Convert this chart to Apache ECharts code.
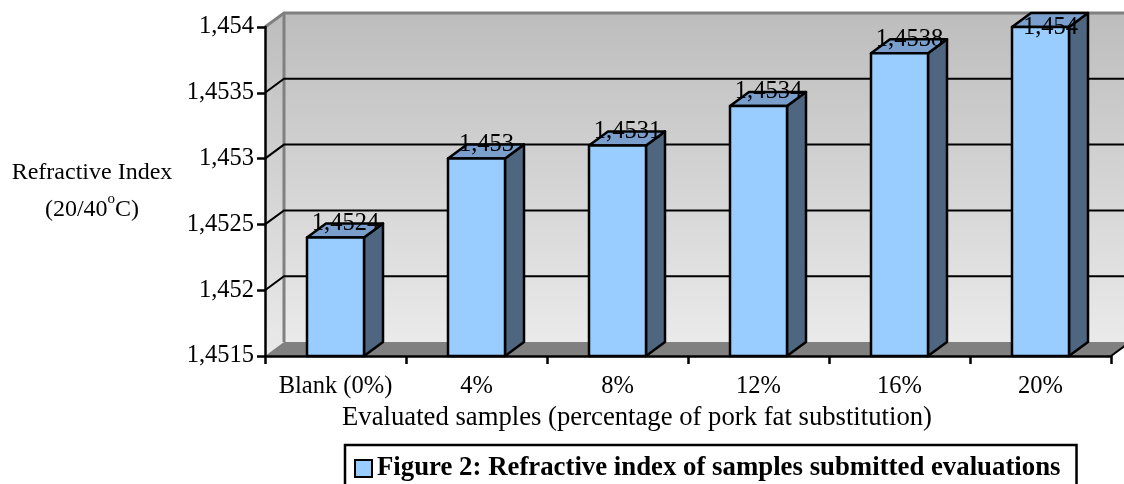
<!DOCTYPE html>
<html>
<head>
<meta charset="utf-8">
<style>
  html, body { margin: 0; padding: 0; background: #fff; }
  #main { width: 1124px; height: 484px; }
</style>
<script src="https://cdn.jsdelivr.net/npm/echarts@6/dist/echarts.min.js"></script>
</head>
<body>
<div id="main"></div>
<script>
var categories = ["Blank (0%)", "4%", "8%", "12%", "16%", "20%"];
var refractiveIndex = [1.4524, 1.453, 1.4531, 1.4534, 1.4538, 1.454];
var gridValues = [1.452, 1.4525, 1.453, 1.4535];
var yMin = 1.4515;
var yMax = 1.454;
var yStep = 0.0005;
var legendName = "Figure 2: Refractive index of samples submitted evaluations";

var FONT = '"Liberation Serif", "Times New Roman", serif';
var DX = 19;
var DY = 14;
var BAR_W = 57;

function comma(v) {
  return String(parseFloat(Number(v).toFixed(4))).replace(".", ",");
}

var wallFill = {
  type: "linear", x: 0, y: 0, x2: 0, y2: 1,
  colorStops: [{ offset: 0, color: "#bdbdbd" }, { offset: 1, color: "#eaeaea" }]
};

function renderWalls(params, api) {
  var g = params.coordSys;
  var l = g.x, r = g.x + g.width, t = g.y, b = g.y + g.height;
  return {
    type: "group",
    children: [
      { type: "polygon", shape: { points: [[l, b], [l, t], [l + DX, t - DY], [l + DX, b - DY]] }, style: { fill: wallFill } },
      { type: "polygon", shape: { points: [[l + DX, b - DY], [l + DX, t - DY], [r + DX, t - DY], [r + DX, b - DY]] }, style: { fill: wallFill } },
      { type: "polygon", shape: { points: [[l, b], [l + DX, b - DY], [r + DX, b - DY], [r, b]] }, style: { fill: "#808080" } },
      { type: "polyline", shape: { points: [[l, t], [l + DX, t - DY], [r + DX, t - DY]] }, style: { fill: "none", stroke: "#808080", lineWidth: 3 } },
      { type: "line", shape: { x1: l + DX, y1: t - DY, x2: l + DX, y2: b - DY }, style: { stroke: "#808080", lineWidth: 3 } },
      { type: "line", shape: { x1: r, y1: b, x2: r + DX, y2: b - DY }, style: { stroke: "#000", lineWidth: 2 } }
    ]
  };
}

function renderGridLine(params, api) {
  var g = params.coordSys;
  var p = api.coord([0, api.value(0)]);
  return {
    type: "polyline",
    shape: { points: [[g.x, p[1]], [g.x + DX, p[1] - DY], [g.x + g.width + DX, p[1] - DY]] },
    style: { fill: "none", stroke: "#000", lineWidth: 2 }
  };
}

function renderBar(params, api) {
  var top = api.coord([api.value(0), api.value(1)]);
  var base = api.coord([api.value(0), yMin]);
  var x0 = top[0] - BAR_W / 2, x1 = top[0] + BAR_W / 2;
  var y0 = top[1], y1 = base[1];
  var edge = { stroke: "#000", lineWidth: 2.5, lineJoin: "round" };
  return {
    type: "group",
    children: [
      { type: "polygon", shape: { points: [[x1, y0], [x1 + DX, y0 - DY], [x1 + DX, y1 - DY], [x1, y1]] }, style: Object.assign({ fill: "#4f6680" }, edge) },
      { type: "polygon", shape: { points: [[x0, y0], [x0 + DX, y0 - DY], [x1 + DX, y0 - DY], [x1, y0]] }, style: Object.assign({ fill: "#7a9fcc" }, edge) },
      { type: "rect", shape: { x: x0, y: y0, width: BAR_W, height: y1 - y0 }, style: Object.assign({ fill: "#99ccff" }, edge) },
      // the tallest label stays inside the chart, like the original
      { type: "text", x: top[0] + 10, y: Math.max(y0 - 14, 28), style: { text: comma(api.value(1)), font: "24.5px " + FONT, fill: "#000", align: "center", verticalAlign: "middle" } }
    ]
  };
}

var chart = echarts.init(document.getElementById("main"), null, { renderer: "canvas" });
chart.setOption({
  animation: false,
  backgroundColor: "#fff",
  grid: { left: 265, top: 27, width: 846, height: 329, outerBoundsMode: "none" },
  legend: {
    data: [legendName],
    icon: "rect",
    left: 345,
    top: 445,
    padding: [10, 16, 7, 9],
    itemWidth: 17,
    itemHeight: 17,
    itemGap: 0,
    borderColor: "#000",
    borderWidth: 2.5,
    itemStyle: { color: "#99ccff", borderColor: "#000", borderWidth: 2 },
    textStyle: { fontFamily: FONT, fontWeight: "bold", fontSize: 26.8, color: "#000" }
  },
  xAxis: {
    type: "category",
    z: 5,
    data: categories,
    name: "Evaluated samples (percentage of pork fat substitution)",
    nameLocation: "middle",
    nameGap: 48,
    nameTextStyle: { fontFamily: FONT, fontSize: 26.7, color: "#000", padding: [0, 102, 0, 0] },
    axisLine: { lineStyle: { color: "#000", width: 2.5 } },
    axisTick: { show: true, length: 8, lineStyle: { color: "#000", width: 2.5 } },
    axisLabel: { interval: 0, fontFamily: FONT, fontSize: 24.5, color: "#000", margin: 18 },
    splitLine: { show: false }
  },
  yAxis: {
    type: "value",
    z: 5,
    min: yMin,
    max: yMax,
    interval: yStep,
    name: "{a|Refractive Index}\n{a|(20/40}{s|o}{a|C)}",
    nameLocation: "middle",
    nameRotate: 0,
    nameGap: 173,
    nameTextStyle: {
      align: "center",
      rich: {
        a: { fontFamily: FONT, fontSize: 24, color: "#000", lineHeight: 37, align: "center" },
        s: { fontFamily: FONT, fontSize: 15, color: "#000", verticalAlign: "top", lineHeight: 26 }
      }
    },
    axisLine: { show: true, lineStyle: { color: "#000", width: 2.5 } },
    axisTick: { show: true, length: 8, lineStyle: { color: "#000", width: 2.5 } },
    axisLabel: { fontFamily: FONT, fontSize: 24.5, color: "#000", margin: 11, padding: [3, 0, 0, 0], formatter: comma },
    splitLine: { show: false }
  },
  series: [
    { type: "custom", name: "walls", silent: true, clip: false, z: 1, data: [[0]], renderItem: renderWalls },
    { type: "custom", name: "grid", silent: true, clip: false, z: 2, data: gridValues.map(function (v) { return [v]; }), encode: { y: 0 }, renderItem: renderGridLine },
    {
      type: "custom",
      name: legendName,
      clip: false,
      z: 6,
      data: categories.map(function (c, i) { return [i, refractiveIndex[i]]; }),
      encode: { x: 0, y: 1 },
      renderItem: renderBar
    }
  ]
});
</script>
</body>
</html>
